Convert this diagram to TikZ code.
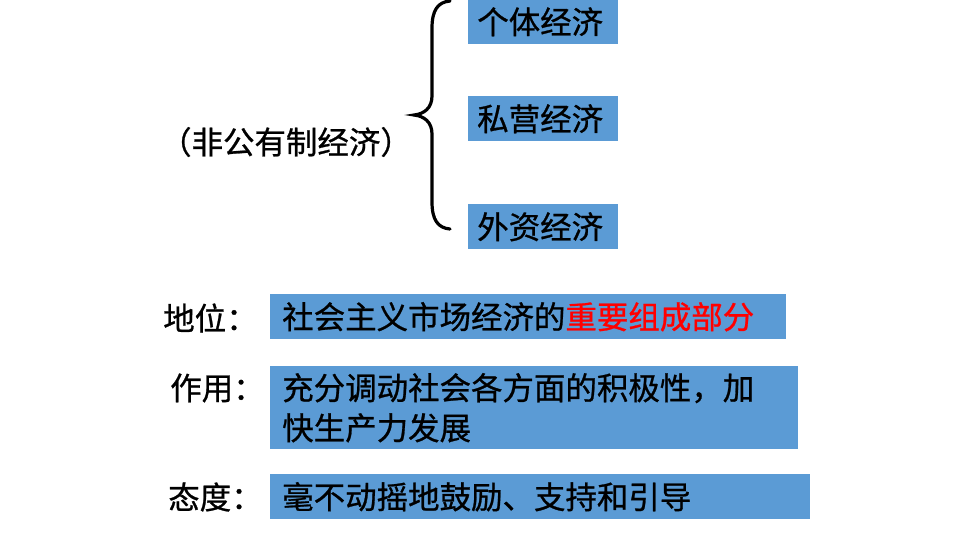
\documentclass[tikz,border=0pt]{standalone}
\usepackage{fontspec}
\newfontfamily\cjk[FakeBold=0.8]{Noto Sans CJK SC}
\usepackage{tikz}
\usetikzlibrary{positioning}
\definecolor{boxblue}{HTML}{5B9BD5}

\begin{document}
\begin{tikzpicture}[x=0.75pt,y=-0.75pt,
    kind box/.style={rectangle,fill=boxblue,anchor=north west,inner xsep=6.75pt,inner ysep=0pt,
      minimum height=33.75pt,text width=99pt,align=left,font=\cjk\fontsize{23.6}{30}\selectfont},
    info box/.style={rectangle,fill=boxblue,anchor=north west,inner xsep=9pt,inner ysep=0pt,
      minimum height=33.75pt,align=left,font=\cjk\fontsize{23.6}{30}\selectfont},
    tag node/.style={inner sep=0pt,font=\cjk\fontsize{23.6}{30}\selectfont}]
   \useasboundingbox (0,0) rectangle (960,540);
   % three kinds of non-public economy
     \node[kind box] (ind) at (468,-1) {个体经济};
     \node[kind box] (priv) at (468,96) {私营经济};
     \node[kind box] (forn) at (468,204) {外资经济};
     \node[tag node] (fgy) at (286,142) {（非公有制经济）};
     \draw[line width=2.4pt,line cap=round] (450,1) .. controls (438,2) and (432,10) .. (432,28) -- (432,96)
        .. controls (432,108) and (424,114) .. (414,115) .. controls (424,116) and (432,122) .. (432,134)
        -- (432,202) .. controls (432,220) and (438,228) .. (450,229);
   % position, role, attitude
     \node[tag node,anchor=west] (diwei) at (163,318) {地位：};
     \node[info box,text width=369pt] (diweib) at (270,294) {社会主义市场经济的\textcolor{red}{重要组成部分}};
     \node[tag node,anchor=west] (zuoyong) at (170,388) {作用：};
     \node[info box,text width=378pt,minimum height=62.25pt] (zuoyongb) at (270,366)
        {充分调动社会各方面的积极性，加\\快生产力发展};
     \node[tag node,anchor=west] (taidu) at (168,497) {态度：};
     \node[info box,text width=387pt] (taidub) at (270,474) {毫不动摇地鼓励、支持和引导};
\end{tikzpicture}
\end{document}
